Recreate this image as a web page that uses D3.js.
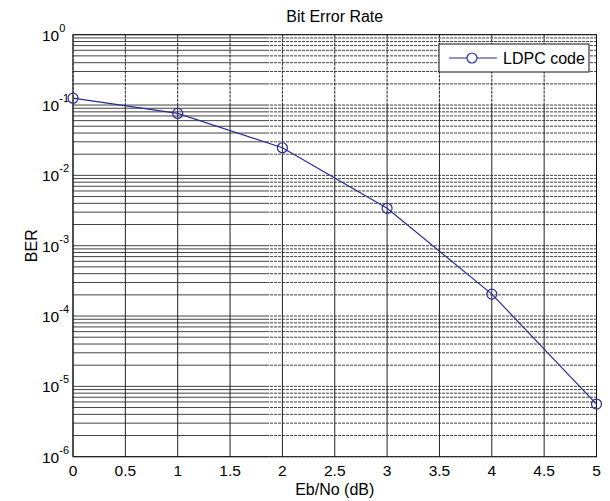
<!DOCTYPE html>
<html>
<head>
<meta charset="utf-8">
<script src="https://cdn.jsdelivr.net/npm/d3@7"></script>
<style>
  html, body { margin: 0; padding: 0; background: #fff; }
  svg { display: block; font-family: "Liberation Sans", Arial, Helvetica, sans-serif; }
</style>
</head>
<body>
<svg id="chart" width="610" height="501"></svg>
<script>
// Simulated LDPC decoder performance: bit error rate vs Eb/No
const ebno = [0, 1, 2, 3, 4, 5];
const ber = [0.125, 0.076, 0.0247, 0.0034, 2.05e-4, 5.6e-6];
const xTicks = [0, 0.5, 1, 1.5, 2, 2.5, 3, 3.5, 4, 4.5, 5];
const yExponents = [0, -1, -2, -3, -4, -5, -6];
const seriesName = "LDPC code";

const svg = d3.select("#chart");
const plotLeft = 73, plotRight = 596.5, plotTop = 34.7, plotBottom = 456.7;
const solidSplitX = 266;   // horizontal grid: solid left of this, dotted to the right
const solidSplitY = 105;   // vertical grid: dotted above this, solid below
const gridColor = "#222";
const lineColor = "#2b2b96";

const x = d3.scaleLinear().domain([0, 5]).range([plotLeft, plotRight]);
const y = d3.scaleLog().domain([1e-6, 1]).range([plotBottom, plotTop]);

const grid = svg.append("g").attr("stroke", gridColor).attr("stroke-width", 1).attr("fill", "none");

// horizontal grid at every major and minor decade value
const yGrid = y.ticks();
grid.selectAll("line.hs").data(yGrid).join("line").attr("class", "hs")
  .attr("x1", plotLeft).attr("x2", solidSplitX)
  .attr("y1", d => y(d)).attr("y2", d => y(d))
  .attr("stroke-opacity", 0.85);
grid.selectAll("line.hd").data(yGrid).join("line").attr("class", "hd")
  .attr("x1", solidSplitX).attr("x2", plotRight)
  .attr("y1", d => y(d)).attr("y2", d => y(d))
  .attr("stroke-dasharray", "3,1")
  .attr("stroke-opacity", 0.85);

// vertical grid at x ticks
grid.selectAll("line.vd").data(xTicks).join("line").attr("class", "vd")
  .attr("x1", d => x(d)).attr("x2", d => x(d))
  .attr("y1", plotTop).attr("y2", solidSplitY)
  .attr("stroke-dasharray", "3,1");
grid.selectAll("line.vs").data(xTicks).join("line").attr("class", "vs")
  .attr("x1", d => x(d)).attr("x2", d => x(d))
  .attr("y1", solidSplitY).attr("y2", plotBottom);

// axes box
svg.append("rect")
  .attr("x", plotLeft).attr("y", plotTop)
  .attr("width", plotRight - plotLeft).attr("height", plotBottom - plotTop)
  .attr("fill", "none").attr("stroke", "#111").attr("stroke-width", 1);

// x tick labels
svg.append("g").selectAll("text").data(xTicks).join("text")
  .attr("x", d => x(d)).attr("y", plotBottom + 19)
  .attr("text-anchor", "middle")
  .attr("font-size", 15.5)
  .attr("fill", "#000")
  .text(d => d3.format("~g")(d));

// y tick labels: 10 with superscript exponent
const yl = svg.append("g").selectAll("text").data(yExponents).join("text")
  .attr("x", 42).attr("y", d => y(Math.pow(10, d)) + 6)
  .attr("font-size", 15.5)
  .attr("fill", "#000");
yl.append("tspan").text("10");
yl.append("tspan").attr("dy", -9).attr("font-size", 11).text(d => String(d));

// title and axis labels
svg.append("text").attr("x", (plotLeft + plotRight) / 2).attr("y", 22)
  .attr("text-anchor", "middle").attr("font-size", 16).text("Bit Error Rate");
svg.append("text").attr("x", (plotLeft + plotRight) / 2).attr("y", 495)
  .attr("text-anchor", "middle").attr("font-size", 16).text("Eb/No (dB)");
svg.append("text")
  .attr("transform", `translate(36.5, ${(plotTop + plotBottom) / 2}) rotate(-90)`)
  .attr("text-anchor", "middle").attr("font-size", 16).text("BER");

// data line and markers
const pts = ebno.map((e, i) => [e, ber[i]]);
svg.append("path")
  .datum(pts)
  .attr("fill", "none").attr("stroke", lineColor).attr("stroke-width", 1.2)
  .attr("d", d3.line().x(d => x(d[0])).y(d => y(d[1])));
svg.append("g").selectAll("circle").data(pts).join("circle")
  .attr("cx", d => x(d[0])).attr("cy", d => y(d[1])).attr("r", 5)
  .attr("fill", "none").attr("stroke", lineColor).attr("stroke-width", 1.2);

// legend
const lg = svg.append("g");
lg.append("rect").attr("x", 439).attr("y", 44).attr("width", 150).attr("height", 28)
  .attr("fill", "#fff").attr("stroke", "#111").attr("stroke-width", 1);
lg.append("line").attr("x1", 449).attr("x2", 497).attr("y1", 58).attr("y2", 58)
  .attr("stroke", lineColor).attr("stroke-width", 1.2);
lg.append("circle").attr("cx", 472).attr("cy", 58).attr("r", 5)
  .attr("fill", "#fff").attr("stroke", lineColor).attr("stroke-width", 1.2);
lg.append("text").attr("x", 503).attr("y", 63.5).attr("font-size", 16).text(seriesName);
</script>
</body>
</html>
